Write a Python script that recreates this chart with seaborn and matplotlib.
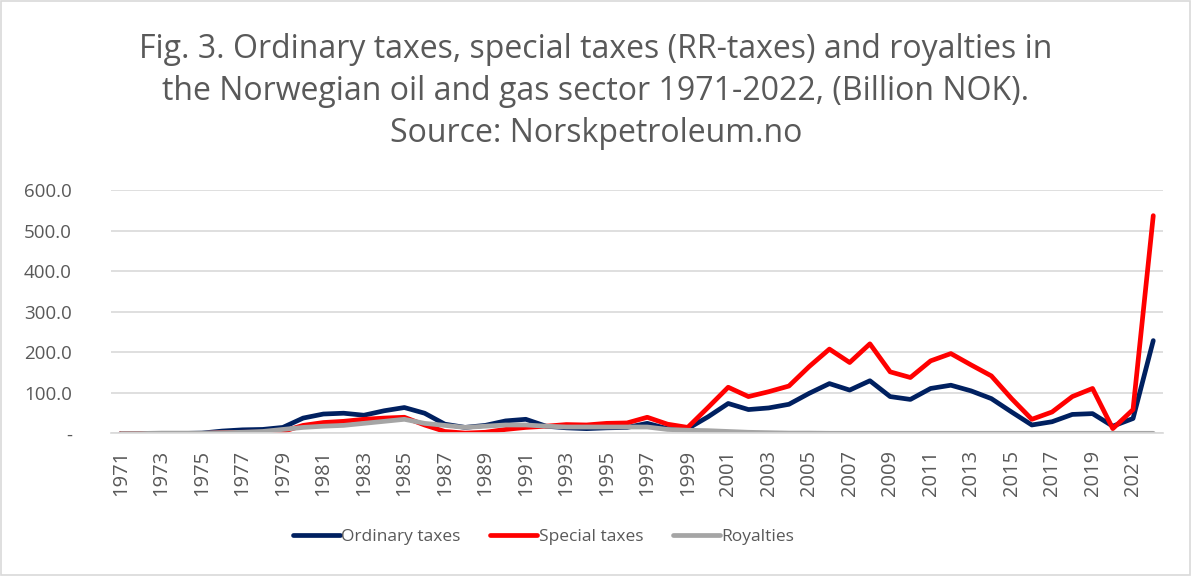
import numpy as np
import pandas as pd
import matplotlib.pyplot as plt
import seaborn as sns

# values (billion NOK)
years = list(range(1971, 2023))

ordinary_taxes = [0, 0, 0, 0, 1, 6, 9, 10, 15, 38, 48, 50, 45, 56, 64, 50, 23, 15, 20,
                  31, 35, 18, 14, 12, 14, 15, 25, 12, 12, 41, 74, 59, 63, 72, 99, 123,
                  107, 130, 91, 84, 111, 119, 105, 86, 53, 21, 29, 47, 49, 18, 37, 229]

special_taxes = [0, 0, 0, 0, 0, 2, 3, 3, 5, 20, 27, 30, 35, 38, 40, 21, 5, 1, 3,
                 10, 15, 18, 22, 21, 25, 26, 40, 23, 15, 64, 114, 91, 103, 117, 165, 208,
                 175, 221, 152, 138, 179, 197, 169, 142, 86, 35, 53, 91, 111, 12, 59, 537]

royalties = [0, 0, 1, 1, 1, 2, 3, 5, 10, 15, 18, 20, 25, 30, 35, 25, 20, 15, 18,
             21, 21, 18, 16, 16, 16, 16, 16, 10, 8, 7, 5, 3, 2, 1, 1, 0.5,
             0.5, 0.5, 0.5, 0.5, 0.5, 0.5, 0.5, 0.5, 0.5, 0.5, 0.5, 0.5, 0.5, 0.5, 0.5, 0.5]

series_names = ['Ordinary taxes', 'Special taxes', 'Royalties']
series_colors = ['#002060', '#FF0000', '#A5A5A5']

df = pd.DataFrame({'year': years,
                   'Ordinary taxes': ordinary_taxes,
                   'Special taxes': special_taxes,
                   'Royalties': royalties})
df['pos'] = np.arange(len(years))
long_df = df.melt(id_vars=['year', 'pos'], value_vars=series_names,
                  var_name='series', value_name='value')

sns.set_style('white')
plt.rcParams['font.family'] = ['Open Sans', 'DejaVu Sans']

fig = plt.figure(figsize=(11.92, 5.76), dpi=100)
ax = fig.add_axes([0.093, 0.2474, 0.883, 0.4226])

sns.lineplot(data=long_df, x='pos', y='value', hue='series', hue_order=series_names,
             palette=series_colors, linewidth=3.4, ax=ax, legend=False, sort=False)

ax.set_xlim(-0.5, len(years) - 0.5)
ax.set_ylim(0, 600)
ax.set_yticks([0, 100, 200, 300, 400, 500, 600])
ax.set_yticklabels(['-', '100.0', '200.0', '300.0', '400.0', '500.0', '600.0'])
ax.set_xticks(df['pos'][::2])
ax.set_xticklabels([str(y) for y in years[::2]], rotation=90)
ax.tick_params(axis='both', length=0, colors='#595959')
ax.tick_params(axis='y', labelsize=13.5, pad=28)
ax.tick_params(axis='x', labelsize=14.5, pad=12)
for lbl in ax.get_yticklabels():
    lbl.set_horizontalalignment('right')

ax.yaxis.grid(True, color='#D9D9D9', linewidth=1.2)
ax.set_axisbelow(True)
for side in ['top', 'right', 'left']:
    ax.spines[side].set_visible(False)
ax.spines['bottom'].set_color('#D9D9D9')
ax.spines['bottom'].set_linewidth(1.2)
ax.set_xlabel('')
ax.set_ylabel('')

# legend at bottom
handles = [plt.Line2D([], [], color=c, linewidth=3.4) for c in series_colors]
fig.legend(handles, series_names, loc='center', bbox_to_anchor=(0.456, 0.067), ncol=3,
           frameon=False, fontsize=12.5, labelcolor='#595959', handlelength=2.7,
           handletextpad=0.1, columnspacing=1.7)

fig.text(0.5, 0.842,
         'Fig. 3. Ordinary taxes, special taxes (RR-taxes) and royalties in\n'
         'the Norwegian oil and gas sector 1971-2022, (Billion NOK).\n'
         'Source: Norskpetroleum.no',
         ha='center', va='center', fontsize=23, color='#595959', linespacing=1.36)

# chart border
fig.patches.append(plt.Rectangle((0.001, 0.002), 0.997, 0.996, transform=fig.transFigure,
                                 fill=False, edgecolor='#D9D9D9', linewidth=1.2))

plt.savefig('out.png', dpi=100)
